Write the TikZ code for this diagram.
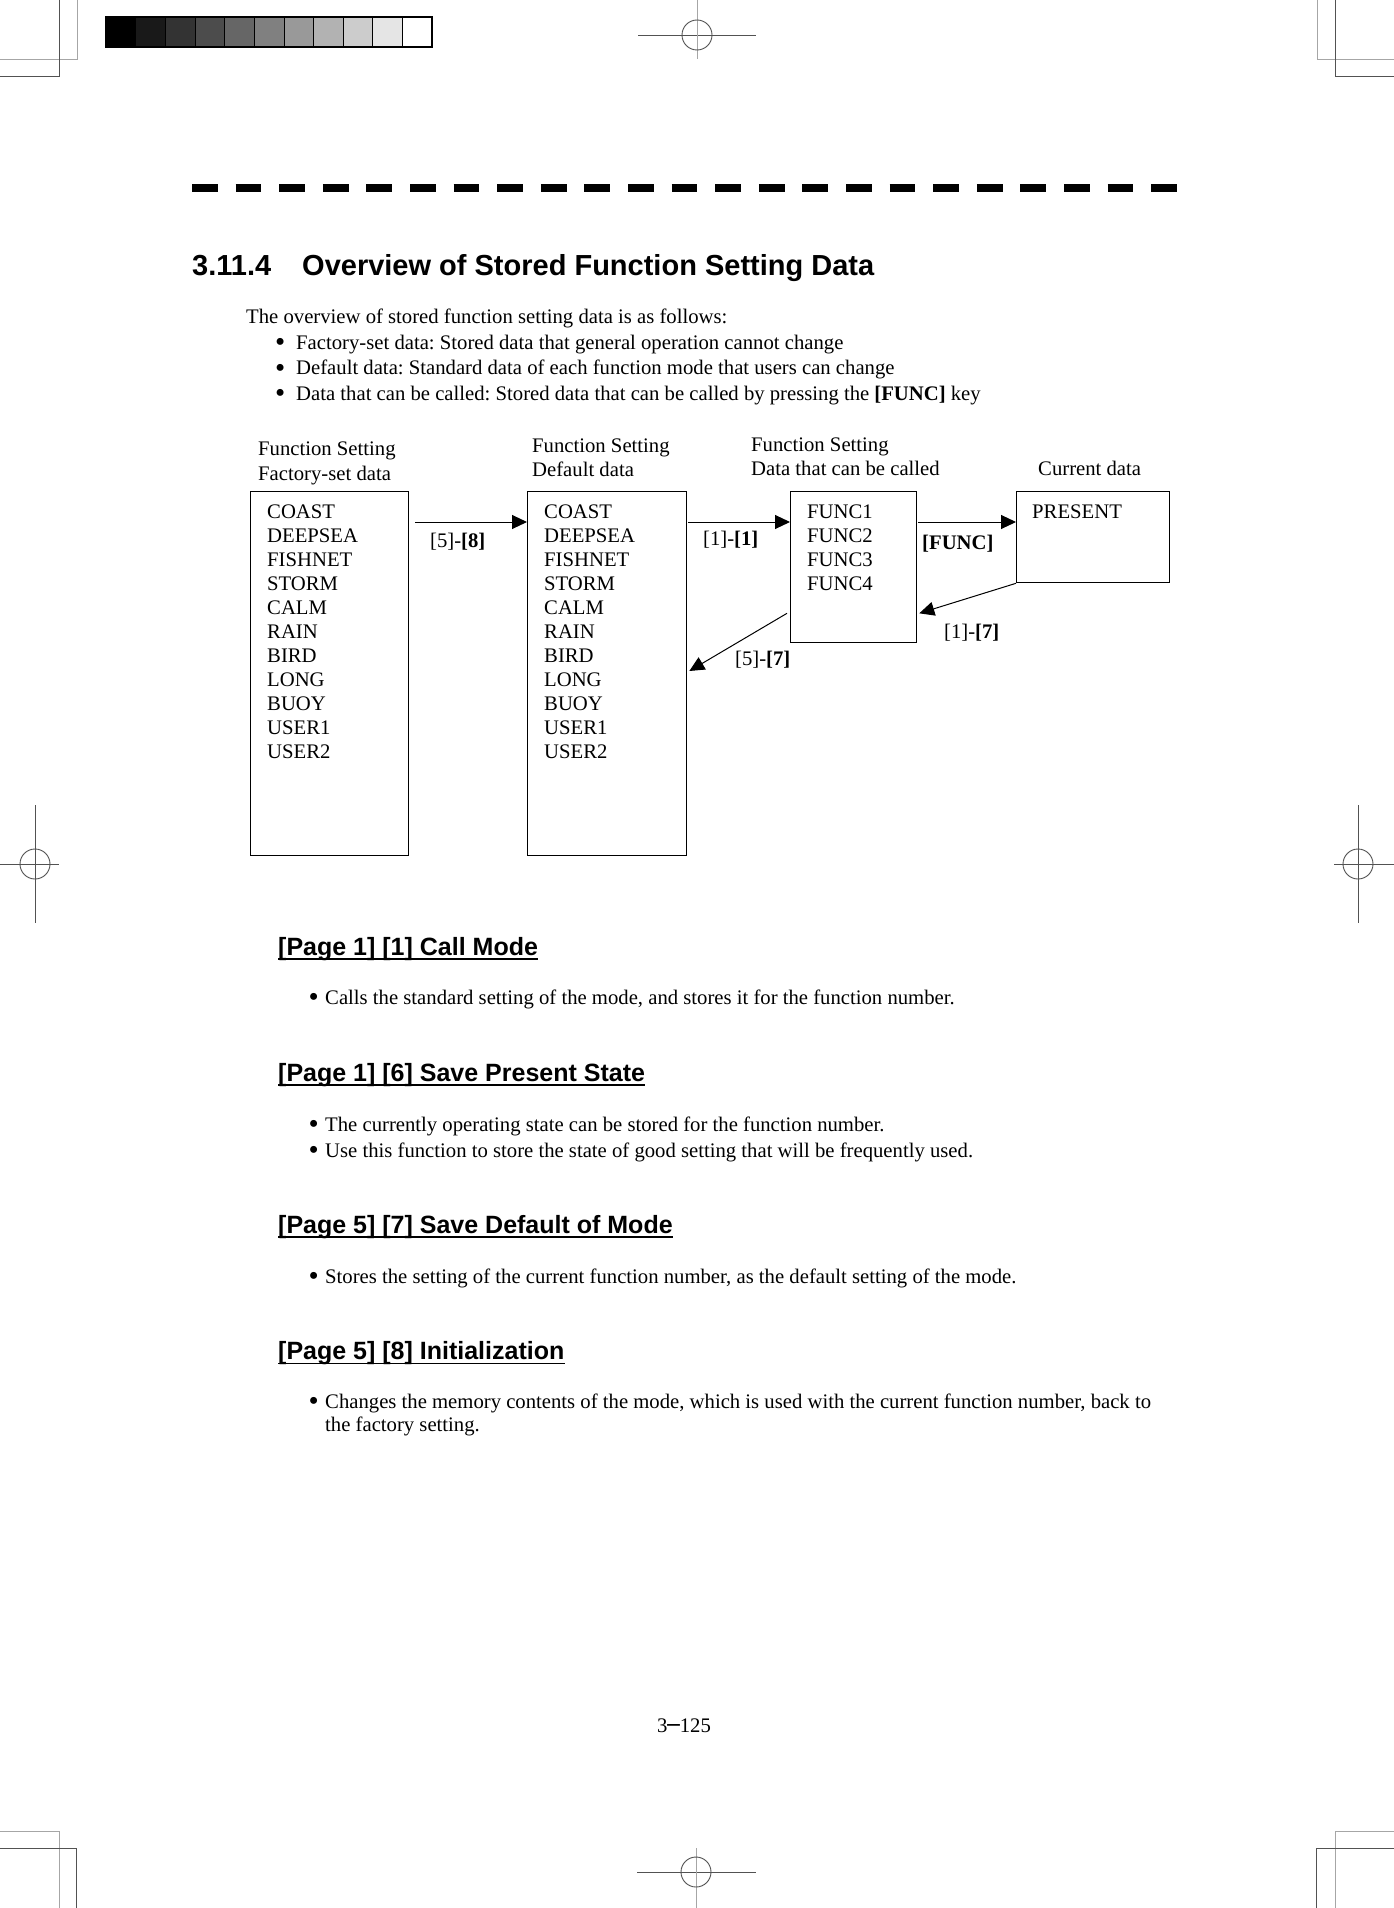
\documentclass[tikz,border=0pt]{standalone}
\usepackage{fontspec}
\setmainfont{Liberation Serif}
\setsansfont{Liberation Sans}
\newfontfamily\djv{DejaVu Sans}
\usetikzlibrary{arrows.meta}
\frenchspacing
\begin{document}
\begin{tikzpicture}[x=1pt,y=-1pt,
  body/.style={inner sep=0pt, anchor=base west, font=\fontsize{20.7}{25}\selectfont},
  bul/.style={inner sep=0pt, anchor=base west, yshift=-2.8pt, font=\fontsize{29}{29}\selectfont},
  lbl/.style={inner sep=0pt, anchor=west, font=\fontsize{20.7}{25}\selectfont},
  head/.style={inner sep=0pt, anchor=base west, font=\fontsize{25}{30}\selectfont\sffamily\bfseries},
  ttlfont/.style={inner sep=0pt, anchor=base west, font=\fontsize{29}{34}\selectfont\sffamily\bfseries},
  databox/.style={draw, line width=1.3pt, anchor=north west, inner sep=0pt},
  flow/.style={line width=1pt, -{Triangle[length=15pt,width=14pt]}},
  cropdark/.style={draw=black!68, line width=0.9pt},
  croplight/.style={draw=black!35, line width=0.9pt},
  uline/.style={line width=1.6pt}
]
\useasboundingbox[fill=white] (0,0) rectangle (1394,1908);

% ---------- crop / registration marks ----------
\draw[croplight] (77,0) -- (77,59) -- (0,59);
\draw[cropdark] (59,0) -- (59,76) -- (0,76);
\draw[croplight] (1317,0) -- (1317,59) -- (1394,59);
\draw[cropdark] (1335,0) -- (1335,76) -- (1394,76);
\draw[croplight] (0,1831) -- (59,1831) -- (59,1908);
\draw[cropdark] (0,1848) -- (76,1848) -- (76,1908);
\draw[croplight] (1394,1831) -- (1335,1831) -- (1335,1908);
\draw[cropdark] (1394,1848) -- (1316,1848) -- (1316,1908);
\draw[cropdark] (638,35) -- (756,35);
\draw[croplight] (697,0) -- (697,59);
\draw[cropdark] (697,35) circle[radius=15];
\draw[cropdark] (637,1872) -- (756,1872);
\draw[croplight] (696,1848) -- (696,1908);
\draw[cropdark] (696,1872) circle[radius=15];
\draw[cropdark] (35,805) -- (35,923);
\draw[cropdark] (0,864) -- (59,864);
\draw[cropdark] (35,864) circle[radius=15];
\draw[cropdark] (1358,805) -- (1358,923);
\draw[cropdark] (1334,864) -- (1394,864);
\draw[cropdark] (1358,864) circle[radius=15];
\foreach \i in {0,...,10} {
  \pgfmathtruncatemacro\g{100-10*\i}
  \path[fill=black!\g, draw=black, line width=0.6pt] (106+29.64*\i,17) rectangle +(29.64,30);
}
\draw[line width=1.2pt] (106,17) rectangle (432,47);

% ---------- dashed rule ----------
\draw[line width=8.5pt, dash pattern=on 25.8pt off 17.8pt] (192,188) -- (1177,188);

% ---------- title and intro ----------
\node[ttlfont] (ttlnum) at (192,275.5) {3.11.4};
\node[ttlfont] (ttl) at (302,275.5) {Overview of Stored Function Setting Data};

\node[body] (intro) at (246,323) {The overview of stored function setting data is as follows:};
\node[bul] (b1) at (275,349) {•};
\node[body] (t1) at (296,349) {Factory-set data: Stored data that general operation cannot change};
\node[bul] (b2) at (275,374.5) {•};
\node[body] (t2) at (296,374.5) {Default data: Standard data of each function mode that users can change};
\node[bul] (b3) at (275,400) {•};
\node[body] (t3) at (296,400) {Data that can be called: Stored data that can be called by pressing the \textbf{[FUNC]} key};

% ---------- diagram ----------
\node[body] (c1a) at (258,455) {Function Setting};
\node[body] (c1b) at (258,480) {Factory-set data};
\node[body] (c2a) at (532,452) {Function Setting};
\node[body] (c2b) at (532,476) {Default data};
\node[body] (c3a) at (751,451.5) {Function Setting};
\node[body] (c3b) at (751,475) {Data that can be called};
\node[body] (c4b) at (1038,475) {Current data};

\node[databox, minimum width=158pt, minimum height=364pt] (fac) at (250,491) {};
\node[databox, minimum width=159pt, minimum height=364pt] (def) at (527,491) {};
\node[databox, minimum width=126pt, minimum height=151pt] (fn) at (790,491) {};
\node[databox, minimum width=153pt, minimum height=91pt] (pr) at (1016,491) {};

\foreach \t [count=\i from 0] in {COAST,DEEPSEA,FISHNET,STORM,CALM,RAIN,BIRD,LONG,BUOY,USER1,USER2} {
  \node[body] (fa\i) at (267,518+24*\i) {\t};
  \node[body] (de\i) at (544,518+24*\i) {\t};
}
\foreach \i in {1,...,4} {
  \node[body] (fn\i) at (807,494+24*\i) {FUNC\i};
}
\node[body] (prt) at (1032,518) {PRESENT};

\draw[flow] ([shift={(6,31)}]fac.north east) -- ([shift={(0,31)}]def.north west);
\draw[flow] ([shift={(1,31)}]def.north east) -- ([shift={(0,31)}]fn.north west);
\draw[flow] ([shift={(1,31)}]fn.north east) -- ([shift={(0,31)}]pr.north west);
\draw[flow] (pr.south west) -- ([shift={(2,-30)}]fn.south east);
\draw[flow] ([shift={(-3,-30)}]fn.south west) -- ([shift={(2,180)}]def.north east);

\node[lbl] (l58) at (430,542) {[5]-\textbf{[8]}};
\node[lbl] (l11) at (703,540) {[1]-\textbf{[1]}};
\node[lbl] (lfn) at (922,544) {\textbf{[FUNC]}};
\node[lbl] (l17) at (944,633) {[1]-\textbf{[7]}};
\node[lbl] (l57) at (735,660) {[5]-\textbf{[7]}};

% ---------- sections ----------
\node[head] (h1) at (278,955) {[Page 1] [1] Call Mode};
\draw[uline] ([yshift=-4pt]h1.base west) -- ([yshift=-4pt]h1.base east);
\node[bul] (s1b) at (308.5,1004) {•};
\node[body] (s1t) at (325,1004) {Calls the standard setting of the mode, and stores it for the function number.};

\node[head] (h2) at (278,1081) {[Page 1] [6] Save Present State};
\draw[uline] ([yshift=-4pt]h2.base west) -- ([yshift=-4pt]h2.base east);
\node[bul] (s2b) at (308.5,1131) {•};
\node[body] (s2t) at (325,1131) {The currently operating state can be stored for the function number.};
\node[bul] (s3b) at (308.5,1157) {•};
\node[body] (s3t) at (325,1157) {Use this function to store the state of good setting that will be frequently used.};

\node[head] (h3) at (278,1233) {[Page 5] [7] Save Default of Mode};
\draw[uline] ([yshift=-4pt]h3.base west) -- ([yshift=-4pt]h3.base east);
\node[bul] (s4b) at (308.5,1283) {•};
\node[body] (s4t) at (325,1283) {Stores the setting of the current function number, as the default setting of the mode.};

\node[head] (h4) at (278,1359.5) {[Page 5] [8] Initialization};
\draw[uline] ([yshift=-4pt]h4.base west) -- ([yshift=-4pt]h4.base east);
\node[bul] (s5b) at (308.5,1408) {•};
\node[body] (s5t) at (325,1408) {Changes the memory contents of the mode, which is used with the current function number, back to};
\node[body] (s5u) at (325,1431) {the factory setting.};

% ---------- page number ----------
\node[body, anchor=base] (pg) at (684,1732) {3{\djv ─}125};
\end{tikzpicture}
\end{document}
